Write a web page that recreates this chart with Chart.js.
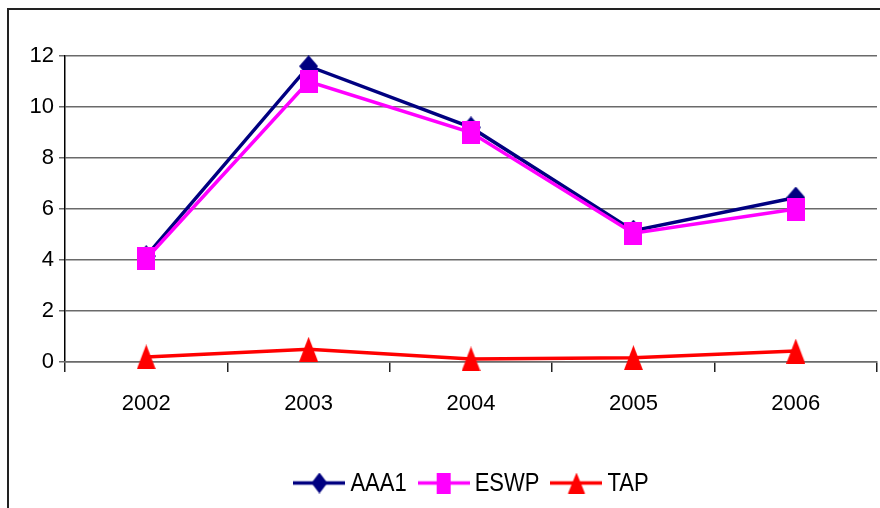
<!DOCTYPE html>
<html>
<head>
<meta charset="utf-8">
<script src="https://cdn.jsdelivr.net/npm/chart.js@4/dist/chart.umd.min.js"></script>
<style>
html,body{margin:0;padding:0;background:#fff;}
#wrap{position:relative;width:880px;height:508px;}
</style>
</head>
<body>
<div id="wrap"><canvas id="c" width="880" height="508"></canvas></div>
<script>
const categories = ['2002', '2003', '2004', '2005', '2006'];
const seriesNames = ['AAA1', 'ESWP', 'TAP'];
const aaa1Values = [4.15, 11.6, 9.2, 5.15, 6.45];
const eswpValues = [4.05, 11.0, 9.0, 5.05, 6.0];
const tapValues = [0.2, 0.5, 0.12, 0.17, 0.43];
const yTicks = [0, 2, 4, 6, 8, 10, 12];

const NAVY = '#000080', MAGENTA = '#FF00FF', RED = '#FF0000';
const FONT = '"Liberation Sans", Arial, sans-serif';

function shapeCanvas(shape, color, w, h, lineW) {
  const cw = lineW || w;
  const c = document.createElement('canvas');
  c.width = cw; c.height = h;
  const g = c.getContext('2d');
  if (lineW) {
    g.strokeStyle = color; g.lineWidth = 3.5;
    g.beginPath(); g.moveTo(0, h / 2); g.lineTo(cw, h / 2); g.stroke();
  }
  const ox = (cw - w) / 2;
  g.fillStyle = color;
  g.beginPath();
  if (shape === 'diamond') {
    g.moveTo(ox + w / 2, 0); g.lineTo(ox + w, h / 2); g.lineTo(ox + w / 2, h); g.lineTo(ox, h / 2);
  } else if (shape === 'square') {
    g.rect(ox, 0, w, h);
  } else {
    g.moveTo(ox + w / 2, 0); g.lineTo(ox + w, h); g.lineTo(ox, h);
  }
  g.closePath(); g.fill();
  return c;
}

const markers = [
  shapeCanvas('diamond', NAVY, 19, 22),
  shapeCanvas('square', MAGENTA, 18, 23),
  shapeCanvas('triangle', RED, 19, 25)
];
const legendImgs = [
  shapeCanvas('diamond', NAVY, 16, 21, 52),
  shapeCanvas('square', MAGENTA, 14, 21, 52),
  shapeCanvas('triangle', RED, 17, 21, 52)
];

const framePlugin = {
  id: 'frame',
  beforeDraw(chart) {
    const ctx = chart.ctx;
    ctx.save();
    ctx.strokeStyle = '#222';
    ctx.lineWidth = 2;
    ctx.beginPath();
    ctx.moveTo(8, 508); ctx.lineTo(8, 9); ctx.lineTo(880, 9);
    ctx.stroke();
    ctx.restore();
  }
};

const legendPlugin = {
  id: 'customLegend',
  afterDraw(chart) {
    const ctx = chart.ctx;
    ctx.save();
    ctx.font = '22px ' + FONT;
    ctx.fillStyle = '#000';
    ctx.textBaseline = 'middle';
    const ds = chart.data.datasets;
    const gap = 5, spacing = 11, lineW = 52;
    const widths = ds.map(d => lineW + gap + ctx.measureText(d.label).width);
    const total = widths.reduce((a, b) => a + b, 0) + spacing * (ds.length - 1);
    const ca = chart.chartArea;
    let x = (ca.left + ca.right) / 2 - total / 2;
    const yc = 483;
    ds.forEach((d, i) => {
      const img = legendImgs[i];
      ctx.drawImage(img, x, yc - img.height / 2);
      ctx.save();
      ctx.translate(x + lineW + gap, yc + 1);
      ctx.scale(1, 1.18);
      ctx.fillText(d.label, 0, 0);
      ctx.restore();
      x += widths[i] + spacing;
    });
    ctx.restore();
  }
};

const valueSets = [aaa1Values, eswpValues, tapValues];
const colors = [NAVY, MAGENTA, RED];

new Chart(document.getElementById('c'), {
  type: 'line',
  data: {
    labels: categories,
    datasets: seriesNames.map((name, i) => ({
      label: name,
      data: valueSets[i],
      borderColor: colors[i],
      backgroundColor: colors[i],
      borderWidth: 3.5,
      pointStyle: markers[i],
      pointRadius: 10,
      pointHoverRadius: 10,
      tension: 0,
      fill: false,
      clip: false,
      order: 2 - i
    }))
  },
  options: {
    responsive: false,
    animation: false,
    events: [],
    layout: { autoPadding: false, padding: { left: 0, top: 56, right: 3, bottom: 86 } },
    plugins: { legend: { display: false }, tooltip: { enabled: false } },
    scales: {
      y: {
        min: 0, max: 12,
        afterBuildTicks(s) { s.ticks = yTicks.map(v => ({ value: v })); },
        afterFit(s) { s.width = 65; s.paddingTop = 0; s.paddingBottom = 0; },
        ticks: { font: { family: FONT, size: 22 }, color: '#000', padding: 5 },
        grid: { color: '#6a6a6a', lineWidth: 1.5, tickLength: 6 },
        border: { color: '#000', width: 1.5 }
      },
      x: {
        offset: true,
        afterFit(s) { s.height = 60; s.paddingLeft = 0; s.paddingRight = 0; },
        ticks: { font: { family: FONT, size: 22 }, color: '#000', padding: 19, maxRotation: 0 },
        grid: { offset: true, drawOnChartArea: false, drawTicks: true, tickLength: 10, color: '#222', lineWidth: 1.5 },
        border: { color: '#6a6a6a', width: 1.5 }
      }
    }
  },
  plugins: [framePlugin, legendPlugin]
});
</script>
</body>
</html>
